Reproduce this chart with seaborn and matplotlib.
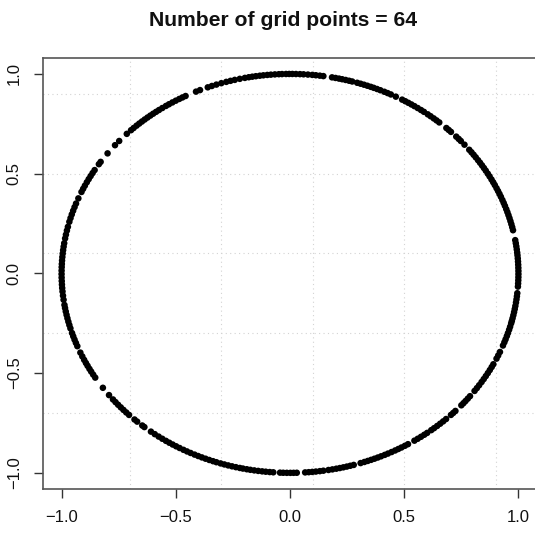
import numpy as np
import pandas as pd
import matplotlib
matplotlib.use("Agg")
import matplotlib.pyplot as plt
import seaborn as sns

# Angles (degrees) of the points, going clockwise from the top
angles_top_right = [92, 91, 90.2, 89.4, 88.5, 87.5, 86.6, 85.5, 84.4, 83.5, 82.5, 81.6,
                    79.4, 78.5, 77.6, 76.8, 75.9, 75.0, 74.2,
                    72.9, 72.0, 71.1, 70.2, 69.3, 68.5, 67.6, 66.7, 65.6, 64.7, 63.8,
                    62.4,
                    60.6, 59.7, 58.8, 57.9, 57.0, 56.0, 55.0, 54.1,
                    52.9, 52.0, 51.0, 50.1, 49.2,
                    46.8, 46.0, 45.2,
                    43.3, 42.4, 41.6,
                    40.2,
                    38.3, 37.4, 36.5, 35.6, 34.6, 33.7, 32.8,
                    31.9, 31.0, 30.0, 29.1, 28.1, 27.2, 26.3, 25.3, 24.4, 23.5, 22.6,
                    21.6, 20.7, 19.8, 18.8, 17.9, 17.0, 16.1, 15.2, 14.3, 13.4, 12.5,
                    9.6, 8.7, 7.8, 6.9, 6.0, 5.2, 4.3, 3.4, 2.5, 1.6, 0.7]
angles_bottom_right = [-0.2, -1.1, -2.0, -2.9, -3.8,
                       -5.7, -6.6, -7.5, -8.4, -9.4, -10.3, -11.2, -12.1, -13.0, -13.8, -14.5,
                       -15.5, -16.4, -17.4, -18.3, -19.3, -20.2, -21.2, -23.2, -24.3, -25.3,
                       -27.1, -28.0, -29.0, -30.0, -31.0, -32.0, -33.0, -34.1, -35.1, -36.1,
                       -38.0, -38.9, -39.8, -40.6, -41.4,
                       -43.6, -44.4, -45.2,
                       -46.9, -47.9, -48.9, -49.9, -50.9, -51.8,
                       -53.1, -54.0, -55.0, -56.0, -57.0,
                       -58.9, -59.8, -60.8, -61.7, -62.6, -63.6, -64.6, -65.5, -66.5,
                       -67.4, -68.3, -69.2, -70.1, -71.0, -72.0,
                       -73.8, -74.7, -75.6, -76.5, -77.4, -78.3, -79.3, -80.3,
                       -81.6, -82.5, -83.5, -84.4, -85.3, -86.2,
                       -88.3, -89.1, -89.9]
angles_bottom_left = [-90.8, -91.7, -92.5,
                      -94.2, -95.1, -96.1, -97.0, -98.0, -99.0, -100.0, -100.9, -101.9,
                      -102.7, -103.7, -104.7, -105.7, -106.7, -107.7, -108.8,
                      -109.7, -110.7, -111.7, -112.7, -113.7, -114.7, -115.8, -116.8, -117.8, -118.9, -119.9,
                      -120.9, -121.9, -122.9, -124.0, -125.1, -126.3, -127.5,
                      -129.6, -130.3,
                      -132.0, -132.9,
                      -134.8, -135.8, -136.8, -137.8, -138.8, -139.8, -140.8,
                      -142.4, -145.0,
                      -148.5, -149.5, -150.5, -151.4, -152.4, -153.3,
                      -154.3, -155.4, -156.6,
                      -158.6, -159.6, -160.6, -161.6, -162.6,
                      -164.0, -165.0, -166.0, -167.0, -168.0, -169.0, -170.0, -170.9,
                      -172.4, -173.6,
                      -174.8, -175.8, -176.8, -177.8, -178.8, -179.8]
angles_top_left = [179.2, 178.2, 177.3, 176.3, 175.3, 174.3, 173.3, 172.3, 171.3,
                   169.9, 168.8, 167.6, 166.5,
                   165.0, 163.9, 162.8, 161.7, 160.6, 159.5,
                   157.9,
                   155.9, 154.9, 153.9, 152.8, 151.8, 150.8, 149.8, 148.8,
                   146.8, 146.0,
                   143.0,
                   140.0, 138.4,
                   135.6, 134.1, 133.2, 132.2, 131.3, 130.4, 129.5, 128.6, 127.7, 126.8, 125.9,
                   125.0, 124.0, 122.9, 122.0, 121.0, 120.0, 119.0, 118.1, 117.2,
                   114.3, 113.2,
                   111.1, 110.0, 108.8, 107.5, 106.2, 105.1, 104.0, 102.7, 101.4, 100.4,
                   99.5, 98.6, 97.6, 96.7, 95.7, 94.8, 93.8, 92.8]

tick_values = [-1.0, -0.5, 0.0, 0.5, 1.0]
tick_labels = ["\u22121.0", "\u22120.5", "0.0", "0.5", "1.0"]
grid_values = [-0.7, -0.3, 0.1, 0.5, 0.9]
title_text = "Number of grid points = 64"

ang = np.deg2rad(np.array(angles_top_right + angles_bottom_right +
                          angles_bottom_left + angles_top_left))
df = pd.DataFrame({"x": np.cos(ang), "y": np.sin(ang)})

sns.set_style("white")
plt.rcParams["font.family"] = ["Liberation Sans", "DejaVu Sans"]

W, H = 535, 533
fig = plt.figure(figsize=(W / 100, H / 100), dpi=100)
ax = fig.add_axes([43.3 / W, 44.2 / H, 493.4 / W, 430.8 / H])

for g in grid_values:
    ax.axvline(g, color="#d3d3d3", lw=0.8, ls=(0, (1, 3)), zorder=0)
    ax.axhline(g, color="#d3d3d3", lw=0.8, ls=(0, (1, 3)), zorder=0)

sns.scatterplot(data=df, x="x", y="y", ax=ax, s=22, color="black",
                edgecolor="none", linewidth=0, zorder=3)

ax.set_xlim(-1.08, 1.08)
ax.set_ylim(-1.08, 1.08)
ax.set_xlabel("")
ax.set_ylabel("")
ax.set_xticks(tick_values)
ax.set_xticklabels(tick_labels)
ax.set_yticks(tick_values)
ax.set_yticklabels(tick_labels, rotation=90, va="center")
ax.tick_params(axis="both", direction="out", length=6.5, width=1.0,
               color="#333333", labelsize=12, labelcolor="#111111", pad=9,
               bottom=True, left=True)
for sp in ax.spines.values():
    sp.set_color("#555555")
    sp.set_linewidth(1.2)

fig.text(283 / W, 1 - 20 / H, title_text, ha="center", va="center",
         fontsize=15.2, fontweight="bold", color="#111111")

fig.savefig("out.png", dpi=100)
